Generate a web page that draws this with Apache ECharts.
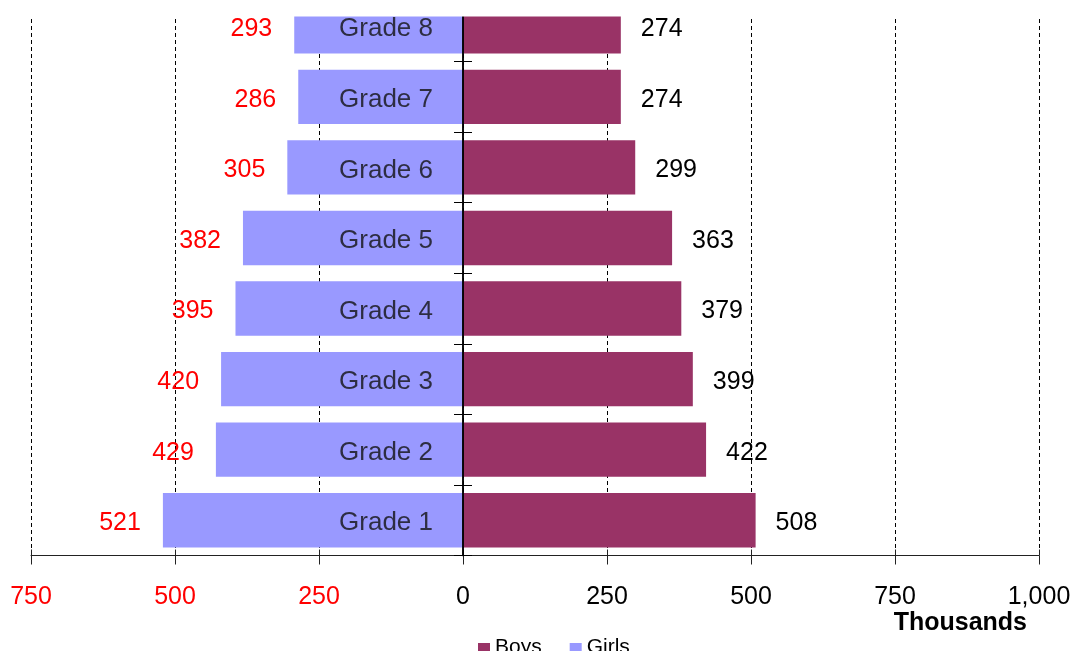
<!DOCTYPE html>
<html>
<head>
<meta charset="utf-8">
<script src="https://cdn.jsdelivr.net/npm/echarts@6/dist/echarts.min.js"></script>
<style>
  html, body { margin: 0; padding: 0; background: #fff; }
  #main { width: 1076px; height: 651px; }
</style>
</head>
<body>
<div id="main"></div>
<script>
// grades, bottom to top
const grades = ['Grade 1', 'Grade 2', 'Grade 3', 'Grade 4', 'Grade 5', 'Grade 6', 'Grade 7', 'Grade 8']
// thousands of pupils
const boys = [508, 422, 399, 379, 363, 299, 274, 274]
const girls = [521, 429, 420, 395, 382, 305, 286, 293]
const xTicks = { min: -750, max: 1000, step: 250 }

const FONT = "'Liberation Sans', Arial, sans-serif"

const myChart = echarts.init(document.getElementById('main'), null, { renderer: 'canvas' })

function fmtThousands (v) {
  return Math.abs(v).toString().replace(/\B(?=(\d{3})+(?!\d))/g, ',')
}

// two x axes / two y axes so the ticks cross the axis line like the original
const xBase = {
  type: 'value',
  min: xTicks.min,
  max: xTicks.max,
  interval: xTicks.step,
  position: 'bottom'
}

const option = {
  animation: false,
  backgroundColor: '#fff',
  textStyle: { fontFamily: FONT },
  grid: {
    left: 31,
    right: 37,
    top: -9,
    bottom: 95.5,
    outerBoundsMode: 'none',
    containLabel: false
  },
  legend: {
    data: ['Boys', 'Girls'],
    left: 473,
    top: 632,
    itemWidth: 12,
    itemHeight: 9,
    itemGap: 28,
    icon: 'rect',
    textStyle: { fontSize: 21, color: '#000', fontFamily: FONT }
  },
  graphic: [
    {
      // the original plot area starts at y=17, top bar is cut there
      type: 'rect',
      left: 0,
      top: 0,
      z: 100,
      shape: { width: 1076, height: 16.5 },
      style: { fill: '#fff' }
    },
    {
      type: 'text',
      right: 49,
      top: 611,
      style: {
        text: 'Thousands',
        fontSize: 25,
        fontWeight: 'bold',
        fill: '#000',
        fontFamily: FONT
      }
    }
  ],
  xAxis: [
    Object.assign({}, xBase, {
      axisLine: { show: true, lineStyle: { color: '#222', width: 1 } },
      axisTick: { show: true, length: 9, lineStyle: { color: '#222' } },
      axisLabel: {
        margin: 29,
        fontSize: 25,
        fontFamily: FONT,
        formatter: fmtThousands,
        color: function (v) {
          return Number(v) < 0 ? '#ff0000' : '#000'
        }
      },
      splitLine: {
        show: true,
        lineStyle: { color: '#000', width: 1, type: [4, 3] }
      }
    }),
    Object.assign({}, xBase, {
      axisLine: { show: false },
      axisTick: { show: true, inside: true, length: 6, lineStyle: { color: '#222' } },
      axisLabel: { show: false },
      splitLine: { show: false }
    })
  ],
  yAxis: [
    {
      type: 'category',
      data: grades,
      z: 5,
      axisLine: { show: true, onZero: true, lineStyle: { color: '#000', width: 1.5 } },
      axisTick: { show: true, length: 9, lineStyle: { color: '#000' } },
      axisLabel: { show: false },
      splitLine: { show: false }
    },
    {
      type: 'category',
      data: grades,
      position: 'left',
      z: 5,
      axisLine: { show: true, onZero: true, lineStyle: { color: '#000', width: 1.5 } },
      axisTick: { show: true, inside: true, length: 9, lineStyle: { color: '#000' } },
      axisLabel: { show: false },
      splitLine: { show: false }
    }
  ],
  series: [
    {
      name: 'Boys',
      type: 'bar',
      stack: 'total',
      xAxisIndex: 0,
      yAxisIndex: 0,
      barCategoryGap: '23%',
      data: boys,
      itemStyle: { color: '#993366' },
      label: {
        show: true,
        position: 'right',
        distance: 20,
        offset: [0, 3],
        fontSize: 25,
        color: '#000',
        fontFamily: FONT
      }
    },
    {
      name: 'Girls',
      type: 'bar',
      stack: 'total',
      xAxisIndex: 0,
      yAxisIndex: 0,
      barCategoryGap: '23%',
      data: girls.map(v => -v),
      itemStyle: { color: '#9999ff' },
      label: {
        show: true,
        position: 'left',
        distance: 22,
        offset: [0, 3],
        fontSize: 25,
        color: '#ff0000',
        fontFamily: FONT,
        formatter: p => fmtThousands(p.value)
      }
    },
    {
      // grade names sit inside the girls bars, right next to the zero line
      name: 'grade names',
      type: 'scatter',
      xAxisIndex: 0,
      yAxisIndex: 0,
      z: 6,
      symbolSize: 0,
      silent: true,
      data: grades.map(g => [0, g]),
      label: {
        show: true,
        position: 'left',
        distance: 30,
        offset: [0, 3],
        fontSize: 26,
        color: '#111',
        fontFamily: FONT,
        formatter: p => p.value[1]
      }
    }
  ]
}

option && myChart.setOption(option)
</script>
</body>
</html>
